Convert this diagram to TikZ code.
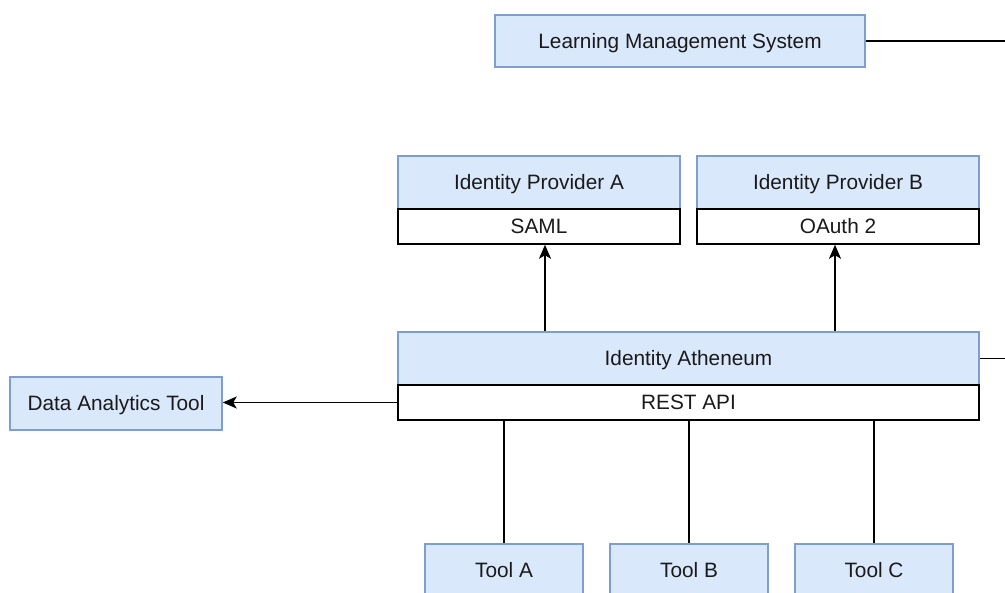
\documentclass[tikz,border=0pt]{standalone}
\usepackage{fontspec}
\setmainfont{Liberation Sans}
\usetikzlibrary{arrows.meta}
\definecolor{bfill}{HTML}{DAE8FC}
\definecolor{bline}{HTML}{7D9ECF}
\definecolor{txt}{HTML}{1A1A1A}
\tikzset{
  bluebox/.style={draw=bline, fill=bfill, line width=1.5pt, inner sep=0pt, text=txt,
    text height=15pt, text depth=0pt,
    font=\fontsize{20.8}{24}\selectfont},
  band/.style={draw=black, fill=white, line width=1.5pt, inner sep=0pt, text=txt,
    text height=15pt, text depth=0pt,
    font=\fontsize{20.8}{24}\selectfont},
  conn/.style={draw=black, line width=1.8pt},
  arr/.style={conn, -{Stealth[length=14pt,width=12pt,inset=3.5pt]}}
}
\begin{document}
\begin{tikzpicture}[x=1pt,y=-1pt]
\clip (0,0) rectangle (1005,593);
\useasboundingbox (0,0) rectangle (1005,593);
\fill[white] (0,0) rectangle (1005,593);

\node[bluebox, minimum width=370pt, minimum height=52pt] (lms) at (680,41) {Learning Management System};

\node[bluebox, minimum width=282pt, minimum height=53pt] (idpa) at (539,182.5) {Identity Provider A};
\node[band, minimum width=282pt, minimum height=35pt] (saml) at (539,226.5) {SAML};
\node[bluebox, minimum width=282pt, minimum height=53pt] (idpb) at (838,182.5) {Identity Provider B};
\node[band, minimum width=282pt, minimum height=35pt] (oauth) at (838,226.5) {OAuth 2};

\node[bluebox, minimum width=581pt, minimum height=53pt] (ath) at (688.5,358.5) {Identity Atheneum};
\node[band, minimum width=581pt, minimum height=35pt] (rest) at (688.5,402.5) {REST API};

\node[bluebox, minimum width=212pt, minimum height=53pt] (dat) at (116,403.5) {Data Analytics Tool};

\node[bluebox, minimum width=158pt, minimum height=53pt] (toola) at (504,570.5) {Tool A};
\node[bluebox, minimum width=158pt, minimum height=53pt] (toolb) at (689,570.5) {Tool B};
\node[bluebox, minimum width=158pt, minimum height=53pt] (toolc) at (874,570.5) {Tool C};

\coordinate (edge1) at (1010,41);
\coordinate (edge2) at (1010,358.5);
\coordinate (xa) at (545,0);
\coordinate (xb) at (835,0);

\draw[conn] (lms.east) -- (lms.east -| edge1);
\draw[conn] (ath.east) -- (ath.east -| edge2);
\draw[arr] (ath.north -| xa) -- (saml.south -| xa);
\draw[arr] (ath.north -| xb) -- (oauth.south -| xb);
\draw[arr] (rest.west) -- (rest.west -| dat.east);
\draw[conn] (rest.south -| toola.north) -- (toola.north);
\draw[conn] (rest.south -| toolb.north) -- (toolb.north);
\draw[conn] (rest.south -| toolc.north) -- (toolc.north);
\end{tikzpicture}
\end{document}
